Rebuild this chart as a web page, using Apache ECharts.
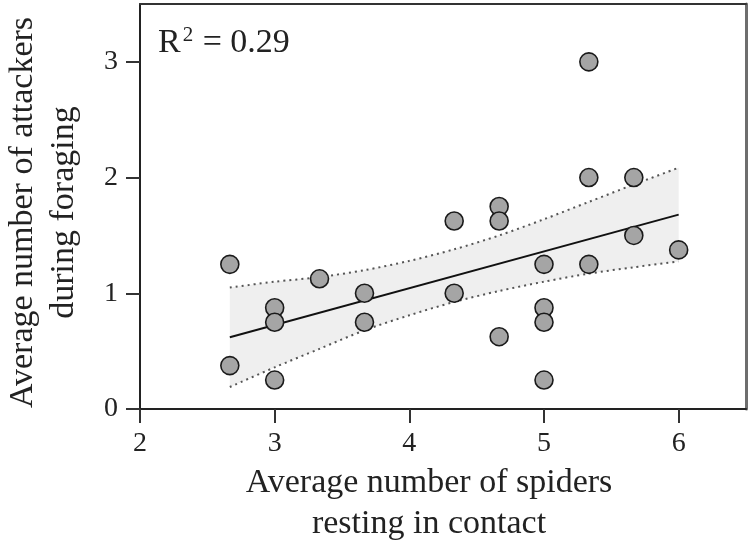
<!DOCTYPE html>
<html>
<head>
<meta charset="utf-8">
<script src="https://cdn.jsdelivr.net/npm/echarts@6/dist/echarts.min.js"></script>
<style>html,body{margin:0;padding:0;background:#fff}#c{width:750px;height:553px}</style>
</head>
<body>
<div id="c"></div>
<script>
// Observed points: spiders in contact (x) vs attackers during foraging (y)
var spidersX = [2.667, 2.667, 3, 3, 3, 3.333, 3.667, 3.667, 4.333, 4.333, 4.667, 4.667, 4.667, 5, 5, 5, 5, 5.333, 5.333, 5.333, 5.667, 5.667, 6];
var attackersY = [1.25, 0.375, 0.875, 0.75, 0.25, 1.125, 1.0, 0.75, 1.625, 1.0, 1.75, 1.625, 0.625, 1.25, 0.875, 0.75, 0.25, 3.0, 2.0, 1.25, 2.0, 1.5, 1.375];
// Regression line endpoints
var fitX = [2.667, 6];
var fitY = [0.62, 1.68];
// Confidence band
var bandX = [2.667, 3, 3.333, 3.667, 4, 4.333, 4.667, 5, 5.333, 5.667, 6];
var bandUpper = [1.05, 1.10, 1.14, 1.20, 1.28, 1.38, 1.50, 1.64, 1.79, 1.94, 2.085];
var bandLower = [0.19, 0.36, 0.52, 0.68, 0.81, 0.925, 1.02, 1.10, 1.17, 1.225, 1.275];
// Ticks
var xTicks = [2, 3, 4, 5, 6];
var yTicks = [0, 1, 2, 3];
var xTitle = 'Average number of spiders\nresting in contact';
var yTitle = 'Average number of attackers\nduring foraging';

var FONT = 'Liberation Serif';
var chart = echarts.init(document.getElementById('c'));
var pts = spidersX.map(function (x, i) { return [x, attackersY[i]]; });
var upperData = bandX.map(function (x, i) { return [x, bandUpper[i]]; });
var lowerData = bandX.map(function (x, i) { return [x, bandLower[i]]; });
var fitData = fitX.map(function (x, i) { return [x, fitY[i]]; });

var dotted = { color: '#555', width: 2, type: [2, 4] };

chart.setOption({
  animation: false,
  backgroundColor: '#fff',
  grid: { left: 140, right: 4, top: 4, bottom: 144, containLabel: false, outerBoundsMode: 'none' },
  xAxis: [{
    type: 'value', min: 2, max: 6.5, position: 'bottom',
    axisLine: { show: true, onZero: false, lineStyle: { color: '#222', width: 2 } },
    axisTick: { show: true, inside: false, length: 14, customValues: xTicks, lineStyle: { color: '#333', width: 2 } },
    axisLabel: { customValues: xTicks, margin: 21, fontFamily: FONT, fontSize: 28, color: '#222' },
    splitLine: { show: false },
    name: xTitle, nameLocation: 'middle', nameGap: 44,
    nameTextStyle: { fontFamily: FONT, fontSize: 34, color: '#222', lineHeight: 41, padding: [0, 28, 0, 0] }
  }, {
    type: 'value', min: 2, max: 6.5, position: 'top',
    axisLine: { show: true, onZero: false, lineStyle: { color: '#333', width: 2 } },
    axisTick: { show: false }, axisLabel: { show: false }, splitLine: { show: false }
  }],
  yAxis: [{
    type: 'value', min: 0, max: 3.5, position: 'left',
    axisLine: { show: true, onZero: false, lineStyle: { color: '#222', width: 2 } },
    axisTick: { show: true, inside: false, length: 14, customValues: yTicks, lineStyle: { color: '#333', width: 2 } },
    axisLabel: { customValues: yTicks, margin: 22, fontFamily: FONT, fontSize: 28, color: '#222' },
    splitLine: { show: false },
    name: yTitle, nameLocation: 'middle', nameGap: 55, nameRotate: 90,
    nameTextStyle: { fontFamily: FONT, fontSize: 34, color: '#222', lineHeight: 41, padding: [0, 12, 0, 0] }
  }, {
    type: 'value', min: 0, max: 3.5, position: 'right',
    axisLine: { show: true, onZero: false, lineStyle: { color: '#6e6e6e', width: 3 } },
    axisTick: { show: false }, axisLabel: { show: false }, splitLine: { show: false }
  }],
  series: [{
    type: 'custom', coordinateSystem: 'cartesian2d', xAxisIndex: 0, yAxisIndex: 0, z: 1,
    data: [[bandX[0], bandLower[0]]],
    silent: true,
    renderItem: function (params, api) {
      var poly = [];
      for (var i = 0; i < bandX.length; i++) poly.push(api.coord([bandX[i], bandUpper[i]]));
      for (var j = bandX.length - 1; j >= 0; j--) poly.push(api.coord([bandX[j], bandLower[j]]));
      return { type: 'polygon', shape: { points: poly, smooth: 0 }, style: { fill: '#efefef', stroke: null } };
    }
  }, {
    type: 'line', data: upperData, symbol: 'none', z: 2, smooth: 0.3, lineStyle: dotted
  }, {
    type: 'line', data: lowerData, symbol: 'none', z: 2, smooth: 0.3, lineStyle: dotted
  }, {
    type: 'line', data: fitData, symbol: 'none', z: 3,
    lineStyle: { color: '#111', width: 2 }
  }, {
    type: 'scatter', data: pts, symbol: 'circle', symbolSize: 18, z: 4,
    itemStyle: { color: '#a5a5a5', borderColor: '#1a1a1a', borderWidth: 1.6, opacity: 1 }
  }],
  graphic: [{
    type: 'text', left: 158, top: 25,
    style: {
      text: '{r|R}{s|2}{r| = 0.29}',
      rich: {
        r: { fontFamily: FONT, fontSize: 34, fill: '#222' },
        s: { fontFamily: FONT, fontSize: 21, fill: '#222', padding: [0, 1, 16, 2] }
      }
    }
  }]
});
</script>
</body>
</html>
